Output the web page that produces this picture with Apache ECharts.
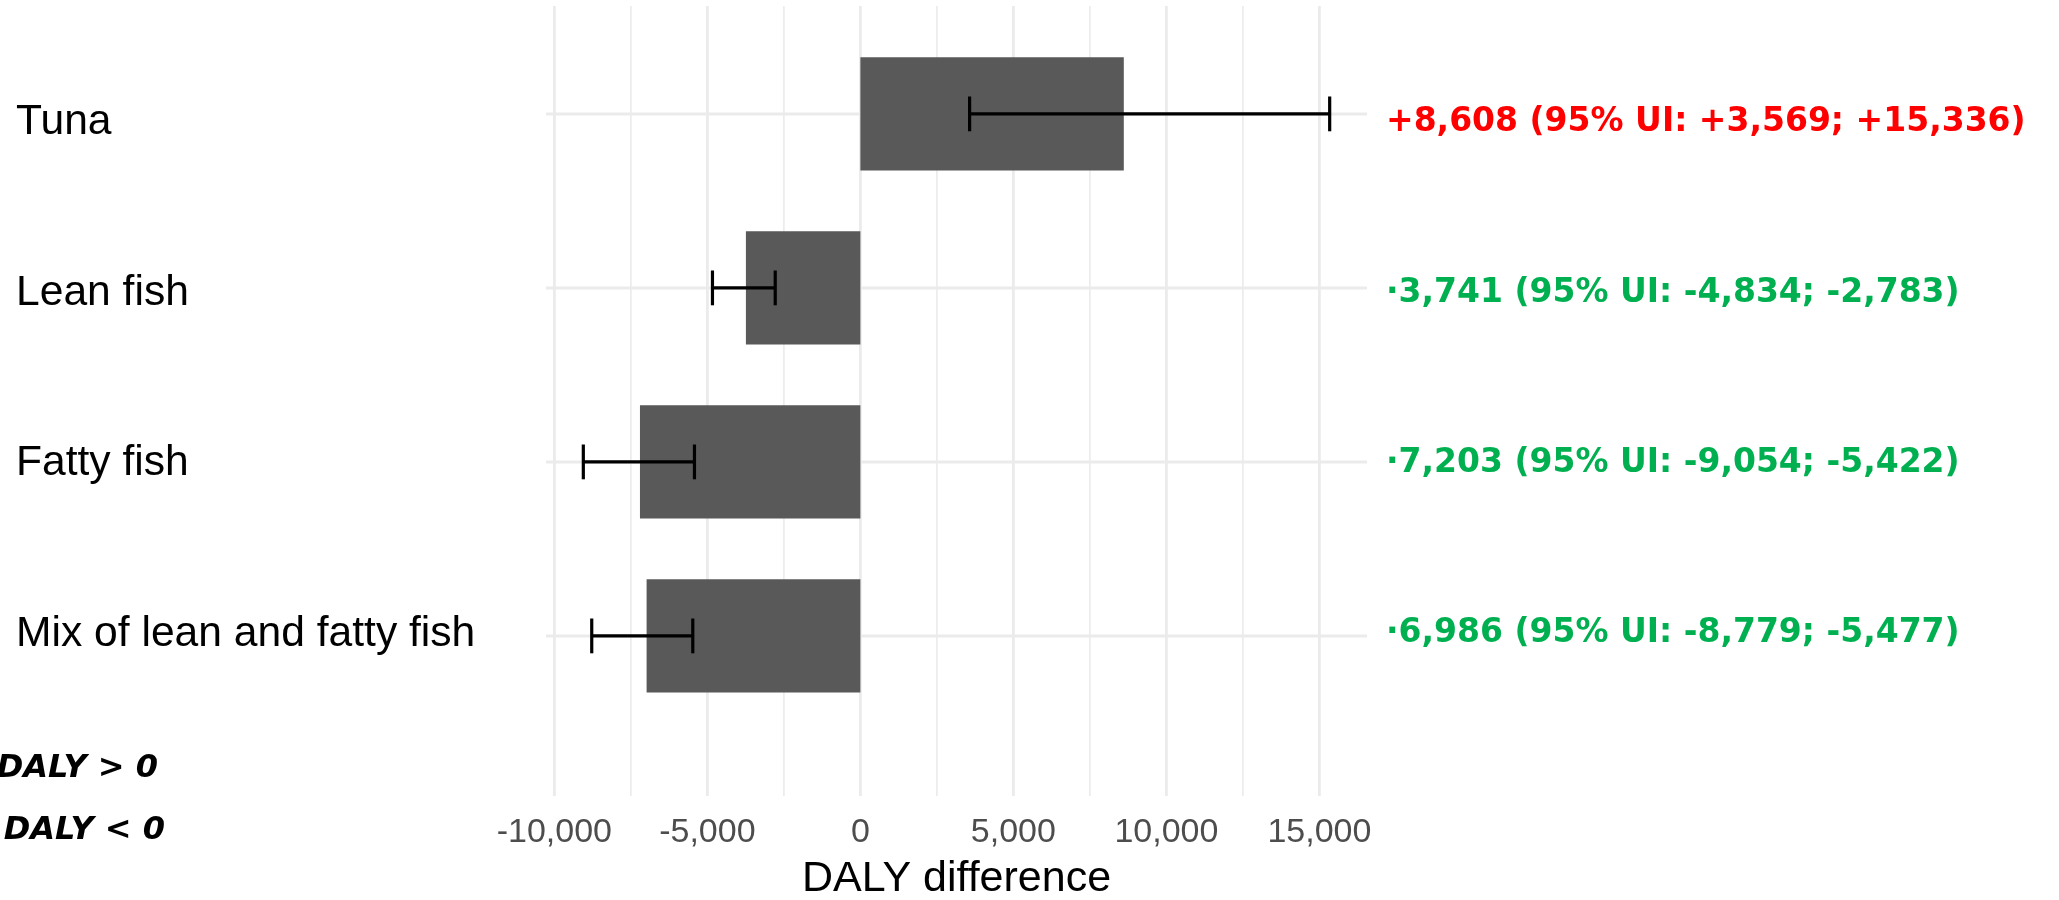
<!DOCTYPE html>
<html>
<head>
<meta charset="utf-8">
<script src="https://cdn.jsdelivr.net/npm/echarts@6/dist/echarts.min.js"></script>
<style>
  html, body { margin: 0; padding: 0; background: #ffffff; }
  #chart { width: 2059px; height: 900px; }
</style>
</head>
<body>
<div id="chart"></div>
<script>
// Change in DALYs by fish type, with 95% uncertainty intervals
const categories = ['Tuna', 'Lean fish', 'Fatty fish', 'Mix of lean and fatty fish'];
const dalyDiff = [8608, -3741, -7203, -6986];
const uiLower = [3569, -4834, -9054, -8779];
const uiUpper = [15336, -2783, -5422, -5477];
const xTicks = [-10000, -5000, 0, 5000, 10000, 15000];
const legendTexts = ['DALY > 0', 'DALY < 0'];

// x range: data extent plus 5% on each side
const lo = Math.min(...uiLower);
const hi = Math.max(...uiUpper);
const pad = 0.05 * (hi - lo);
const xMin = lo - pad;
const xMax = hi + pad;

const rows = categories.map((c, i) => i + 1);
const minorTicks = xTicks.slice(1).map((t, i) => (t + xTicks[i]) / 2);

function thousands(v) {
  return Math.abs(v).toString().replace(/\B(?=(\d{3})+(?!\d))/g, ',');
}
function signed(v) {
  return (v > 0 ? '+' : '-') + thousands(v);
}
function leadSigned(v) {
  return (v > 0 ? '+' : '\u00B7') + thousands(v);
}
const valueLabels = dalyDiff.map((v, i) =>
  leadSigned(v) + ' (95% UI: ' + signed(uiLower[i]) + '; ' + signed(uiUpper[i]) + ')');

const GRID_COLOR = '#EBEBEB';
const SANS = '"Liberation Sans", Arial, sans-serif';
const BOLD = '"DejaVu Sans", Verdana, sans-serif';

const chart = echarts.init(document.getElementById('chart'), null, { renderer: 'canvas' });

const option = {
  backgroundColor: '#ffffff',
  animation: false,
  grid: [
    { left: 546, top: 6, width: 821, height: 790, containLabel: false, outerBoundsMode: 'none' },
    { left: 546, top: 37.4, width: 821, height: 681.6, containLabel: false, outerBoundsMode: 'none' }
  ],
  xAxis: [
    {
      gridIndex: 0,
      type: 'value',
      min: xMin,
      max: xMax,
      axisLine: { show: false },
      axisTick: { show: false },
      splitLine: { show: false },
      axisLabel: {
        customValues: xTicks,
        formatter: v => (v < 0 ? '-' : '') + thousands(v),
        color: '#4D4D4D',
        fontSize: 34,
        fontFamily: SANS,
        margin: 20
      },
      name: 'DALY difference',
      nameLocation: 'middle',
      nameGap: 62,
      nameTextStyle: { fontSize: 43, color: '#000000', fontFamily: SANS }
    },
    {
      gridIndex: 1,
      type: 'value',
      min: xMin,
      max: xMax,
      show: false
    }
  ],
  yAxis: [
    {
      gridIndex: 0,
      type: 'value',
      inverse: true,
      min: 0.38,
      max: 4.92,
      show: false
    },
    {
      gridIndex: 1,
      type: 'value',
      inverse: true,
      min: 0.5,
      max: 4.5,
      show: false
    }
  ],
  graphic: legendTexts.map((t, i) => ({
    type: 'text',
    x: i === 0 ? 158 : 165,
    y: i === 0 ? 769 : 831,
    style: {
      text: t,
      fill: '#000000',
      font: 'italic bold 32px "DejaVu Sans", Verdana, sans-serif',
      align: 'right',
      verticalAlign: 'middle'
    }
  })),
  series: [
    // vertical grid lines (major and minor)
    {
      type: 'custom',
      xAxisIndex: 0, yAxisIndex: 0,
      clip: false,
      silent: true,
      data: xTicks.map(v => [v, 1]).concat(minorTicks.map(v => [v, 0])),
      renderItem: (params, api) => {
        const cs = params.coordSys;
        const x = api.coord([api.value(0), 1])[0];
        const major = api.value(1) === 1;
        return {
          type: 'line',
          shape: { x1: x, y1: cs.y, x2: x, y2: cs.y + cs.height },
          style: { stroke: GRID_COLOR, lineWidth: major ? 2.8 : 1.6 }
        };
      }
    },
    // horizontal grid lines at each category
    {
      type: 'custom',
      xAxisIndex: 0, yAxisIndex: 0,
      clip: false,
      silent: true,
      data: rows.map(r => [0, r]),
      renderItem: (params, api) => {
        const cs = params.coordSys;
        const y = api.coord([0, api.value(1)])[1];
        return {
          type: 'line',
          shape: { x1: cs.x, y1: y, x2: cs.x + cs.width, y2: y },
          style: { stroke: GRID_COLOR, lineWidth: 3 }
        };
      }
    },
    // bars
    {
      type: 'custom',
      xAxisIndex: 0, yAxisIndex: 0,
      clip: false,
      data: dalyDiff.map((v, i) => [v, rows[i]]),
      encode: { x: 0, y: 1 },
      renderItem: (params, api) => {
        const v = api.value(0);
        const r = api.value(1);
        const p0 = api.coord([0, r]);
        const p1 = api.coord([v, r]);
        const h = api.size([0, 0.65])[1];
        return {
          type: 'rect',
          shape: { x: Math.min(p0[0], p1[0]), y: p0[1] - h / 2, width: Math.abs(p1[0] - p0[0]), height: h },
          style: { fill: '#595959' }
        };
      }
    },
    // 95% UI error bars
    {
      type: 'custom',
      xAxisIndex: 0, yAxisIndex: 0,
      clip: false,
      data: uiLower.map((l, i) => [l, uiUpper[i], rows[i]]),
      encode: { x: [0, 1], y: 2 },
      renderItem: (params, api) => {
        const r = api.value(2);
        const a = api.coord([api.value(0), r]);
        const b = api.coord([api.value(1), r]);
        const half = api.size([0, 0.2])[1] / 2;
        const st = { stroke: '#000000', lineWidth: 3.2 };
        return {
          type: 'group',
          children: [
            { type: 'line', shape: { x1: a[0], y1: a[1], x2: b[0], y2: b[1] }, style: st },
            { type: 'line', shape: { x1: a[0], y1: a[1] - half, x2: a[0], y2: a[1] + half }, style: st },
            { type: 'line', shape: { x1: b[0], y1: b[1] - half, x2: b[0], y2: b[1] + half }, style: st }
          ]
        };
      }
    },
    // category names on the left
    {
      type: 'custom',
      xAxisIndex: 1, yAxisIndex: 1,
      clip: false,
      silent: true,
      data: rows.map(r => [0, r]),
      renderItem: (params, api) => {
        const cs = params.coordSys;
        const y = api.coord([0, api.value(1)])[1];
        return {
          type: 'text',
          x: cs.x - 530,
          y: y,
          style: {
            text: categories[params.dataIndex],
            fill: '#000000',
            fontSize: 42.6,
            fontFamily: SANS,
            align: 'left',
            verticalAlign: 'middle'
          }
        };
      }
    },
    // estimate and interval text on the right
    {
      type: 'custom',
      xAxisIndex: 1, yAxisIndex: 1,
      clip: false,
      silent: true,
      data: rows.map(r => [0, r]),
      renderItem: (params, api) => {
        const cs = params.coordSys;
        const y = api.coord([0, api.value(1)])[1];
        const i = params.dataIndex;
        return {
          type: 'text',
          x: cs.x + cs.width + 19,
          y: y,
          style: {
            text: valueLabels[i],
            fill: dalyDiff[i] > 0 ? '#FF0000' : '#00B050',
            fontSize: 33,
            fontWeight: 'bold',
            fontFamily: BOLD,
            align: 'left',
            verticalAlign: 'middle'
          }
        };
      }
    }
  ]
};

chart.setOption(option);
</script>
</body>
</html>
